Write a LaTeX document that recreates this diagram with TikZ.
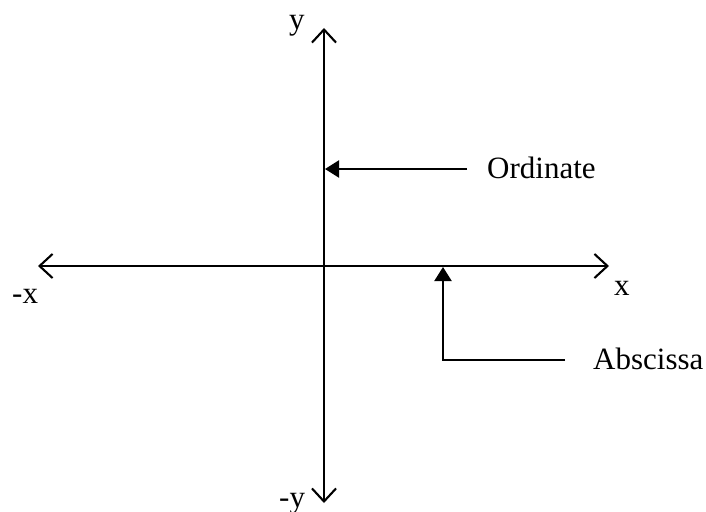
\documentclass[tikz,border=0pt]{standalone}
\usepackage{fontspec}
\setmainfont{Liberation Serif}
\usetikzlibrary{arrows.meta}
\begin{document}
\begin{tikzpicture}[x=1pt,y=-1pt,
  axis/.style={line width=2.1pt,{Straight Barb[length=13pt,width=24pt,line width=2.1pt]}-{Straight Barb[length=13pt,width=24pt,line width=2.1pt]}},
  pointer/.style={line width=2.1pt,-{Triangle[length=14pt,width=17pt]}},
  lbl/.style={inner sep=0pt,anchor=base west,font=\fontsize{31}{36}\selectfont}]
\useasboundingbox (0,0) rectangle (706,511);
\coordinate (xl) at (38,266);
\coordinate (xr) at (609,266);
\coordinate (yt) at (324,28);
\coordinate (yb) at (324,503);
\draw[axis] (xl) -- (xr);
\draw[axis] (yb) -- (yt);
\node[lbl] (ylab) at (289,30) {y};
\node[lbl] (nylab) at (279,507) {-y};
\node[lbl] (xlab) at (614,295) {x};
\node[lbl] (nxlab) at (12,303) {-x};
\node[lbl] (ord) at (487,178) {Ordinate};
\node[lbl] (abs) at (593,369) {Abscissa};
\coordinate (ordstart) at (467,169);
\coordinate (ordend) at (325,169);
\draw[pointer] (ordstart) -- (ordend);
\coordinate (absstart) at (565,360);
\coordinate (abscorner) at (443,360);
\coordinate (absend) at (443,267);
\draw[pointer] (absstart) -- (abscorner) -- (absend);
\end{tikzpicture}
\end{document}
